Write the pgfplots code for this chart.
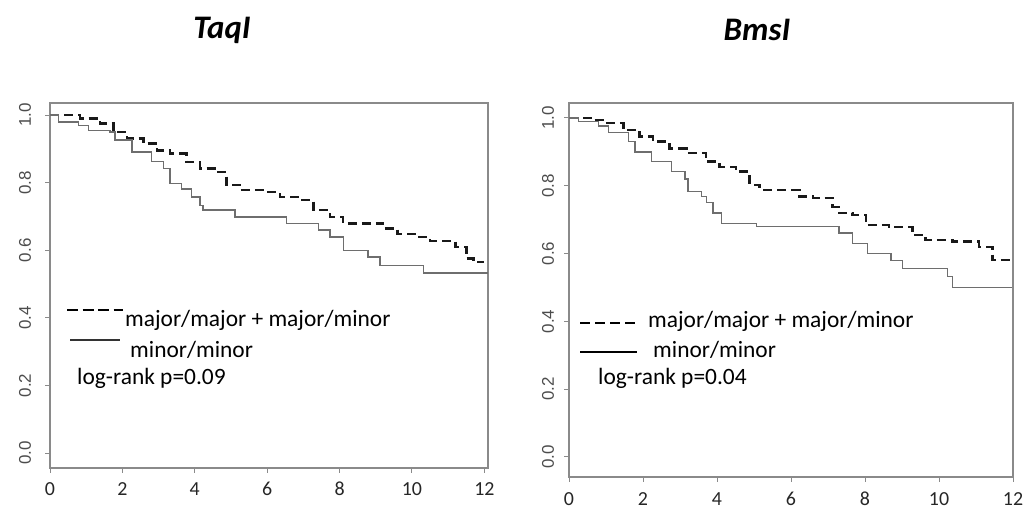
\documentclass[border=0pt]{standalone}
\usepackage{fontspec}
\setmainfont{Carlito}
\newfontfamily\arialfont{Liberation Sans}
\usepackage{pgfplots}
\pgfplotsset{compat=1.18}

\definecolor{boxgray}{HTML}{8A8A8A}
\definecolor{curvegray}{HTML}{6E6E6E}

\pgfplotsset{
  km/.style={
    scale only axis,
    xmin=0,
    xtick={0,2,4,6,8,10,12},
    ytick={0,0.2,0.4,0.6,0.8,1},
    tick align=outside,
    tick pos=left,
    major tick length=5bp,
    axis line style={boxgray, line width=1.2bp},
    tick style={boxgray, line width=1bp},
    /pgf/number format/assume math mode=true,
    yticklabel={\pgfmathprintnumber[fixed,fixed zerofill,precision=1]{\tick}},
    yticklabel style={rotate=90, anchor=center, font=\arialfont\fontsize{17}{17}\selectfont, text=black!70},
    xticklabel style={anchor=center, font=\fontsize{20}{20}\selectfont, text=black!85},
  },
  dashedkm/.style={const plot mark left, black!90, line width=2.4bp, dash pattern=on 9bp off 5bp},
  solidkm/.style={const plot mark left, curvegray, line width=1.4bp},
}

\begin{document}
\begin{tikzpicture}[x=1bp,y=1bp]
\path[use as bounding box] (0,0) rectangle (1032,509);

% TaqI
\begin{axis}[km, at={(50bp,41bp)}, anchor=south west,
  width=438bp, height=365bp, xmax=12.1, ymin=-0.044, ymax=1.036,
  yticklabel style={yshift=20bp}, xticklabel style={yshift=-16bp}]
\addplot[dashedkm] coordinates {
(0,1.0) (0.83,0.99) (1.38,0.975) (1.75,0.95) (2.12,0.931) (2.58,0.916)
(2.95,0.896) (3.31,0.886) (3.77,0.862) (4.14,0.842) (4.6,0.832) (4.88,0.793)
(5.25,0.778) (5.99,0.773) (6.35,0.758) (6.9,0.749) (7.28,0.719) (7.73,0.699)
(8.1,0.68) (9.2,0.665) (9.6,0.648) (10.2,0.64) (10.5,0.628) (11.2,0.61)
(11.51,0.576) (11.7,0.566) (12.0,0.566)
};
\addplot[solidkm] coordinates {
(0,1.0) (0.23,0.98) (0.78,0.97) (1.06,0.955) (1.66,0.95) (1.8,0.926)
(2.26,0.891) (2.81,0.862) (3.13,0.842) (3.31,0.797) (3.64,0.782) (3.91,0.758)
(4.14,0.733) (4.23,0.719) (5.11,0.699) (6.54,0.68) (7.41,0.66) (7.73,0.64)
(8.1,0.6) (8.79,0.58) (9.12,0.556) (10.31,0.533) (12.1,0.533)
};
\end{axis}

% BmsI
\begin{axis}[km, at={(569bp,32bp)}, anchor=south west,
  width=444bp, height=374bp, xmax=12, ymin=-0.059, ymax=1.044,
  yticklabel style={yshift=16bp}, xticklabel style={yshift=-17bp}]
\addplot[dashedkm] coordinates {
(0,1.0) (0.66,0.993) (1.02,0.985) (1.47,0.965) (1.91,0.945) (2.27,0.93)
(2.72,0.91) (3.17,0.896) (3.71,0.871) (4.07,0.856) (4.52,0.842) (4.88,0.803)
(5.15,0.788) (6.23,0.768) (6.59,0.763) (7.12,0.738) (7.3,0.719) (7.66,0.714)
(8.02,0.684) (8.65,0.679) (9.28,0.655) (9.64,0.64) (10.36,0.635) (11.08,0.62)
(11.44,0.581) (11.96,0.571)
};
\addplot[solidkm] coordinates {
(0,1.0) (0.25,0.989) (0.79,0.976) (1.06,0.957) (1.6,0.93) (1.78,0.9)
(2.23,0.871) (2.77,0.842) (3.13,0.82) (3.22,0.783) (3.58,0.768) (3.71,0.75)
(3.89,0.72) (4.12,0.689) (5.06,0.679) (7.3,0.66) (7.66,0.63) (8.07,0.6)
(8.7,0.58) (9.01,0.556) (10.225,0.532) (10.36,0.5) (11.96,0.5)
};
\end{axis}

% titles
\node[font=\bfseries\itshape\fontsize{33}{33}\selectfont] at (222,479) {TaqI};
\node[font=\bfseries\itshape\fontsize{33}{33}\selectfont] at (757,479) {BmsI};

% legend, left panel
\draw[black, line width=2.6bp, dash pattern=on 11bp off 4.5bp] (67,199) -- (123,199);
\draw[black!80, line width=1.4bp] (70,169) -- (120,169);
\begin{scope}[every node/.style={anchor=west, inner sep=0pt, font=\fontsize{23.5}{23.5}\selectfont}]
\node at (125,189) {major/major + major/minor};
\node at (130,159) {minor/minor};
\node at (77,131) {log-rank p=0.09};
\end{scope}

% legend, right panel
\draw[black, line width=2.6bp, dash pattern=on 10bp off 5bp] (580,186) -- (637,186);
\draw[black, line width=2.8bp] (580,157) -- (637,157);
\begin{scope}[every node/.style={anchor=west, inner sep=0pt, font=\fontsize{23.5}{23.5}\selectfont}]
\node at (648,188) {major/major + major/minor};
\node at (653,159) {minor/minor};
\node at (598,131) {log-rank p=0.04};
\end{scope}
\end{tikzpicture}
\end{document}
